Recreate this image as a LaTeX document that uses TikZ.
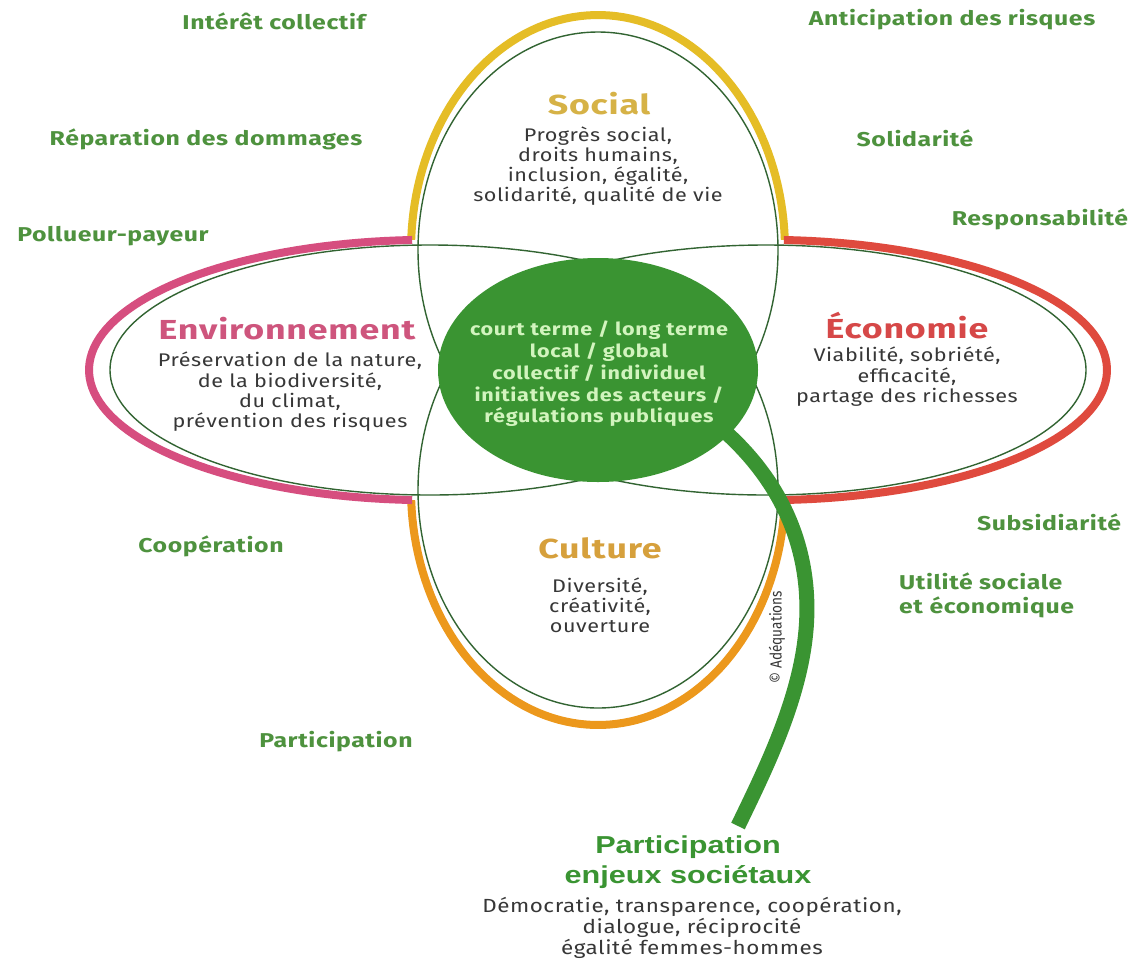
\documentclass[tikz,border=0pt]{standalone}
\usepackage{fontspec}
\usetikzlibrary{shapes.geometric}
\newfontfamily\dinf[FakeStretch=1.18,LetterSpace=3]{Fira Sans}
\newfontfamily\labf[FakeStretch=1.24,LetterSpace=3]{Fira Sans}
\newfontfamily\ttlf[FakeStretch=1.3,LetterSpace=3]{Fira Sans}
\newfontfamily\midf[FakeStretch=1.2,LetterSpace=4]{Fira Sans}
\newfontfamily\smallf[FakeStretch=0.85]{Fira Sans}
\newfontfamily\bigf[FakeStretch=1.25]{Liberation Sans}
\definecolor{cgold}{RGB}{229,189,38}
\definecolor{cpink}{RGB}{214,78,127}
\definecolor{cred}{RGB}{223,74,62}
\definecolor{corange}{RGB}{236,152,28}
\definecolor{cthin}{RGB}{50,100,50}
\definecolor{cgreen}{RGB}{58,148,50}
\definecolor{cpale}{RGB}{210,244,190}
\definecolor{clab}{RGB}{78,146,62}
\definecolor{ctext}{RGB}{55,55,55}
\definecolor{tsocial}{RGB}{214,178,70}
\definecolor{tenv}{RGB}{206,85,125}
\definecolor{teco}{RGB}{214,72,72}
\definecolor{tcult}{RGB}{214,160,60}
\tikzset{
  thinline/.style={draw=cthin,line width=1.4pt},
  thickarc/.style={line width=8pt},
  lab/.style={text=clab,font=\labf\bfseries\fontsize{20}{24}\selectfont,inner sep=0pt},
  ttl/.style={font=\ttlf\bfseries\fontsize{27.5}{31}\selectfont,inner sep=0pt},
  body/.style={text=ctext,font=\dinf\fontsize{18.3}{19.8}\selectfont,align=center,inner sep=0pt},
}
\begin{document}
\begin{tikzpicture}[x=1pt,y=-1pt]
\useasboundingbox[fill=white] (0,0) rectangle (1132,962);
% thick outer arcs
\draw[thickarc,cgold] plot[domain=182.5:357.5,samples=80] ({598+187*cos(\x)},{250+235*sin(\x)});
\draw[thickarc,corange] plot[domain=2.5:177.5,samples=80] ({598+187*cos(\x)},{490+235*sin(\x)});
\draw[thickarc,cpink] plot[domain=93.0:267.0,samples=80] ({430+341*cos(\x)},{370+130.2*sin(\x)});
\draw[thickarc,cred] plot[domain=-87.0:87.0,samples=80] ({766+341*cos(\x)},{370+130.2*sin(\x)});
% thin petals
\draw[thinline] (598,250) ellipse [x radius=180,y radius=218];
\draw[thinline] (598,490) ellipse [x radius=180,y radius=218];
\draw[thinline] (430,370) ellipse [x radius=320,y radius=125];
\draw[thinline] (766,370) ellipse [x radius=320,y radius=125];
% stem
\coordinate (s0) at (705,415);
\coordinate (s1) at (806,630);
\coordinate (s2) at (738,826);
\draw[cgreen,line width=15pt] (s0) .. controls (790,480) and (812,560) .. (s1) .. controls (800,700) and (765,770) .. (s2);
% centre
\node[ellipse,fill=cgreen,minimum width=320pt,minimum height=224pt,inner sep=0pt] (core) at (598,370) {};
\node[text=cpale,font=\midf\bfseries\fontsize{18}{21.8}\selectfont,align=center,inner sep=0pt] (coretext) at (599,374)
  {court terme / long terme\\local / global\\collectif / individuel\\initiatives des acteurs /\\régulations publiques};
% petal texts
\node[ttl,text=tsocial] (social) at (599,104) {Social};
\node[body] (socialtxt) at (598,166) {Progrès social,\\droits humains,\\inclusion, égalité,\\solidarité, qualité de vie};
\node[ttl,text=tenv] (env) at (287,329) {Environnement};
\node[body,font=\dinf\fontsize{18.3}{20.3}\selectfont] (envtxt) at (290,392) {Préservation de la nature,\\de la biodiversité,\\du climat,\\prévention des risques};
\node[ttl,text=teco] (eco) at (907,326) {Économie};
\node[body,font=\dinf\fontsize{18.3}{20.5}\selectfont] (ecotxt) at (907,377) {Viabilité, sobriété,\\efficacité,\\partage des richesses};
\node[ttl,text=tcult] (cult) at (600,548) {Culture};
\node[body] (culttxt) at (600,605) {Diversité,\\créativité,\\ouverture};
% outer labels
\node[lab] (l1) at (274,21) {Intérêt collectif};
\node[lab] (l2) at (206,139) {Réparation des dommages};
\node[lab] (l3) at (113,236) {Pollueur-payeur};
\node[lab] (l4) at (952,20) {Anticipation des risques};
\node[lab] (l5) at (915,138) {Solidarité};
\node[lab] (l6) at (1040,219) {Responsabilité};
\node[lab] (l7) at (1049,522) {Subsidiarité};
\node[lab] (l8) at (211,546) {Coopération};
\node[lab,align=left,anchor=west,font=\labf\bfseries\fontsize{20}{24}\selectfont] (l9) at (899,595) {Utilité sociale\\et économique};
\node[lab] (l10) at (336,742) {Participation};
% copyright
\node[rotate=90,text=ctext,font=\smallf\fontsize{16}{18}\selectfont,inner sep=0pt] (copy) at (777,637) {© Adéquations};
% bottom
\node[text=cgreen,font=\bigf\bfseries\fontsize{24.5}{30}\selectfont,align=center,inner sep=0pt] (part) at (688,862) {Participation\\enjeux sociétaux};
\node[body,font=\dinf\fontsize{19}{21}\selectfont] (parttxt) at (692,928) {Démocratie, transparence, coopération,\\dialogue, réciprocité\\égalité femmes-hommes};
\end{tikzpicture}
\end{document}
